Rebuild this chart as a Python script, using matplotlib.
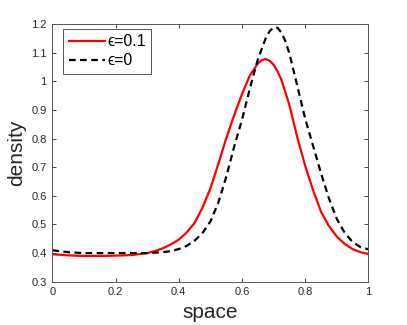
import matplotlib.pyplot as plt

plt.rcParams['font.family'] = ['Liberation Sans', 'DejaVu Sans']

# eps = 0.1 (red solid)
x_eps01 = [0, 0.05, 0.1, 0.15, 0.2, 0.25, 0.3, 0.325, 0.35, 0.375, 0.4, 0.425,
           0.45, 0.475, 0.5, 0.525, 0.55, 0.575, 0.6, 0.625, 0.65, 0.6625,
           0.675, 0.6875, 0.7, 0.7125, 0.725, 0.75, 0.775, 0.8, 0.825, 0.85,
           0.875, 0.9, 0.925, 0.95, 0.975, 1.0]
y_eps01 = [0.396, 0.392, 0.390, 0.390, 0.391, 0.393, 0.400, 0.407, 0.417, 0.430,
           0.447, 0.472, 0.505, 0.558, 0.625, 0.71, 0.80, 0.88, 0.955, 1.02,
           1.062, 1.074, 1.078, 1.072, 1.058, 1.035, 1.005, 0.918, 0.805,
           0.705, 0.62, 0.545, 0.495, 0.458, 0.432, 0.414, 0.403, 0.397]

# eps = 0 (black dashed)
x_eps0 = [0, 0.05, 0.1, 0.15, 0.2, 0.25, 0.3, 0.35, 0.375, 0.4, 0.425, 0.45,
          0.475, 0.5, 0.525, 0.55, 0.575, 0.6, 0.625, 0.65, 0.675, 0.6875, 0.7,
          0.7125, 0.725, 0.7375, 0.75, 0.775, 0.8, 0.825, 0.85, 0.875, 0.9,
          0.925, 0.95, 0.975, 1.0]
y_eps0 = [0.410, 0.403, 0.400, 0.400, 0.400, 0.400, 0.400, 0.403, 0.407, 0.414,
          0.425, 0.443, 0.47, 0.51, 0.575, 0.665, 0.77, 0.865, 0.975, 1.075,
          1.15, 1.175, 1.188, 1.187, 1.17, 1.14, 1.098, 0.985, 0.87, 0.775,
          0.68, 0.592, 0.52, 0.471, 0.439, 0.421, 0.413]

fig = plt.figure(figsize=(4.07, 3.25), dpi=100)
ax = fig.add_axes([0.1286, 0.1332, 0.7764, 0.7928])

ax.plot(x_eps01, y_eps01, color='red', linewidth=1.6, label='\u03f5=0.1')
ax.plot(x_eps0, y_eps0, color='black', linewidth=1.6, linestyle=(0, (3, 2)),
        label='\u03f5=0')

ax.set_xlim(0, 1)
ax.set_ylim(0.3, 1.2)
ax.set_xticks([0, 0.2, 0.4, 0.6, 0.8, 1])
ax.set_xticklabels(['0', '0.2', '0.4', '0.6', '0.8', '1'])
ax.set_yticks([0.3, 0.4, 0.5, 0.6, 0.7, 0.8, 0.9, 1.0, 1.1, 1.2])
ax.set_yticklabels(['0.3', '0.4', '0.5', '0.6', '0.7', '0.8', '0.9', '1', '1.1', '1.2'])

ax.tick_params(direction='in', top=True, right=True, length=3, width=0.6,
               labelsize=8, colors='#262626', pad=4)
for s in ax.spines.values():
    s.set_color('#555555')
    s.set_linewidth(0.7)

ax.set_xlabel('space', fontsize=15, color='#262626', labelpad=4)
ax.set_ylabel('density', fontsize=15, color='#262626', labelpad=4)

leg = ax.legend(loc='upper left', fontsize=11.5, handlelength=2.3,
                handletextpad=0.1, borderpad=0.35, labelspacing=0.25,
                fancybox=False, framealpha=1, bbox_to_anchor=(0.034, 0.982),
                borderaxespad=0)
leg.get_frame().set_edgecolor('#555555')
leg.get_frame().set_linewidth(0.7)

fig.savefig('out.png', dpi=100)
